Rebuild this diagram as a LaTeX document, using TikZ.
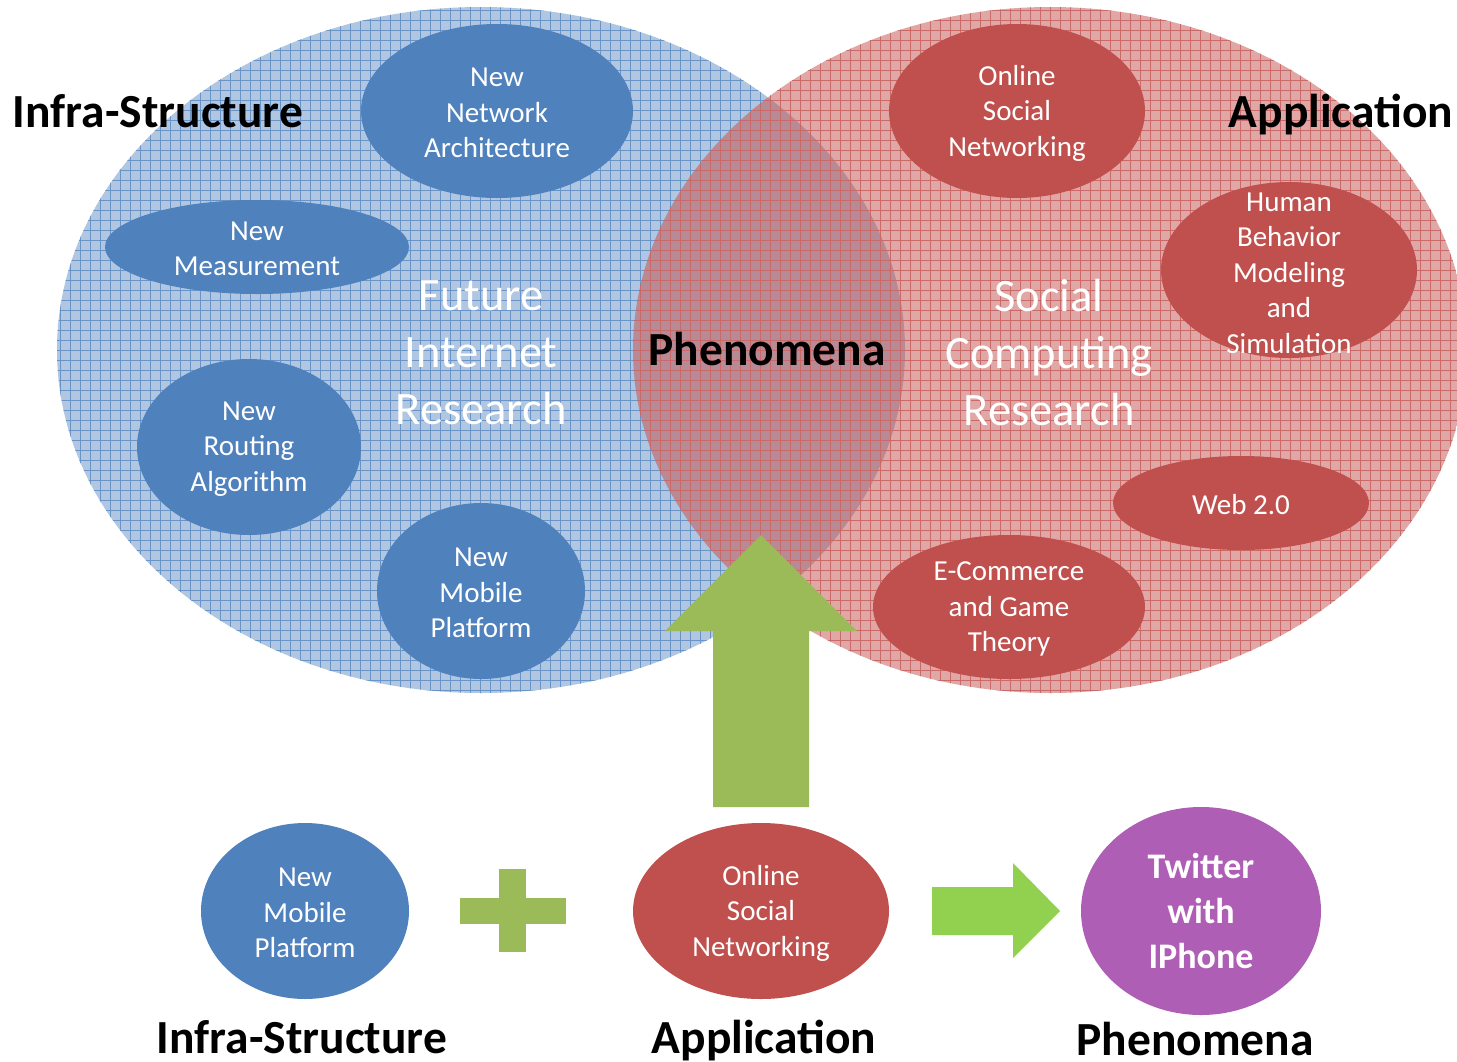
\documentclass[tikz,border=0pt]{standalone}
\usepackage{fontspec}
\setmainfont{Carlito}
\usetikzlibrary{shapes.geometric}
\definecolor{infrablue}{HTML}{4F81BD}
\definecolor{appred}{HTML}{C0504D}
\definecolor{arrowgreen}{HTML}{9BBB59}
\definecolor{limegreen}{HTML}{92D050}
\definecolor{phenpurple}{HTML}{AE5FB5}

\begin{document}
\begin{tikzpicture}[x=1pt,y=-1pt,
    blob/.style={ellipse,inner sep=0pt,draw=none},
    bluebl/.style={blob,fill=infrablue},
    redbl/.style={blob,fill=appred},
    blobtext/.style={text=white,align=center,inner sep=0pt,yshift=-2pt,font=\fontsize{29}{35.5}\selectfont},
    bigtext/.style={text=white,align=center,inner sep=0pt,font=\fontsize{46.5}{57}\selectfont},
    heading/.style={anchor=base,inner sep=0pt,font=\fontsize{47.5}{57}\selectfont\bfseries}]
  \clip (0,0) rectangle (1457,1061);
  % infra-structure sheet
  \begin{scope}
    \clip (481,350) ellipse [x radius=424, y radius=343];
    \fill[infrablue!45] (50,0) rectangle (910,700);
    \draw[infrablue!85, line width=.9pt] (50,700) grid[step=10pt] (910,0);
  \end{scope}
  % application sheet, see-through over the blue one
  \begin{scope}
    \clip (1050,350) ellipse [x radius=417, y radius=343];
    \fill[appred, fill opacity=.5] (630,0) rectangle (1470,700);
    \draw[appred!85, line width=.9pt] (630,700) grid[step=10pt] (1470,0);
  \end{scope}
  % sheet titles
  \node[bigtext] (fir) at (481,353) {Future\\Internet\\Research};
  \node[bigtext] (scr) at (1049,353) {Social\\Computing\\Research};
  \node[heading] (infra) at (158,127) {Infra-Structure};
  \node[heading] (appl) at (1341,127) {Application};
  \node[heading] (phen) at (767,365) {Phenomena};
  % infra-structure topics
  \node[bluebl, minimum width=272pt, minimum height=174pt] (netarch) at (497,111) {};
  \node[blobtext] (netarch-t) at (netarch) {New\\Network\\Architecture};
  \node[bluebl, minimum width=304pt, minimum height=94pt] (meas) at (257,247) {};
  \node[blobtext] (meas-t) at (meas) {New\\Measurement};
  \node[bluebl, minimum width=224pt, minimum height=176pt] (routing) at (249,447) {};
  \node[blobtext] (routing-t) at (routing) {New\\Routing\\Algorithm};
  \node[bluebl, minimum width=208pt, minimum height=176pt] (mobile) at (481,591) {};
  \node[blobtext] (mobile-t) at (mobile) {New\\Mobile\\Platform};
  % application topics
  \node[redbl, minimum width=256pt, minimum height=174pt] (osn) at (1017,111) {};
  \node[blobtext] (osn-t) at (osn) {Online\\Social\\Networking};
  \node[redbl, minimum width=256pt, minimum height=176pt] (human) at (1289,270) {};
  \node[blobtext] (human-t) at (1289,271) {Human\\Behavior\\Modeling\\and\\Simulation};
  \node[redbl, minimum width=256pt, minimum height=94pt] (web) at (1241,503) {};
  \node[blobtext] (web-t) at (web) {Web 2.0};
  \node[redbl, minimum width=272pt, minimum height=144pt] (ecom) at (1009,607) {};
  \node[blobtext] (ecom-t) at (ecom) {E-Commerce\\and Game\\Theory};
  % big arrow up into the overlap
  \fill[arrowgreen] (713,807) -- (713,631) -- (665,631) -- (761,535) -- (857,631) -- (809,631) -- (809,807) -- cycle;
  % bottom row
  \node[bluebl, minimum width=208pt, minimum height=176pt] (bmobile) at (305,911) {};
  \node[blobtext] (bmobile-t) at (bmobile) {New\\Mobile\\Platform};
  \node[redbl, minimum width=256pt, minimum height=176pt] (bosn) at (761,911) {};
  \node[blobtext] (bosn-t) at (bosn) {Online\\Social\\Networking};
  \node[blob, fill=phenpurple, minimum width=240pt, minimum height=208pt] (twitter) at (1201,911) {};
  \node[blobtext, yshift=2pt, font=\fontsize{36}{45}\selectfont\bfseries] (twitter-t) at (twitter) {Twitter\\with\\IPhone};
  % plus
  \fill[arrowgreen] (460,898) rectangle (566,924);
  \fill[arrowgreen] (499,869) rectangle (526,952);
  % arrow to the result
  \fill[limegreen] (932,887) -- (1013,887) -- (1013,863) -- (1060,911) -- (1013,958) -- (1013,935) -- (932,935) -- cycle;
  % bottom labels
  \node[heading] (binfra) at (302,1053) {Infra-Structure};
  \node[heading] (bappl) at (764,1053) {Application};
  \node[heading] (bphen) at (1195,1055) {Phenomena};
\end{tikzpicture}
\end{document}
